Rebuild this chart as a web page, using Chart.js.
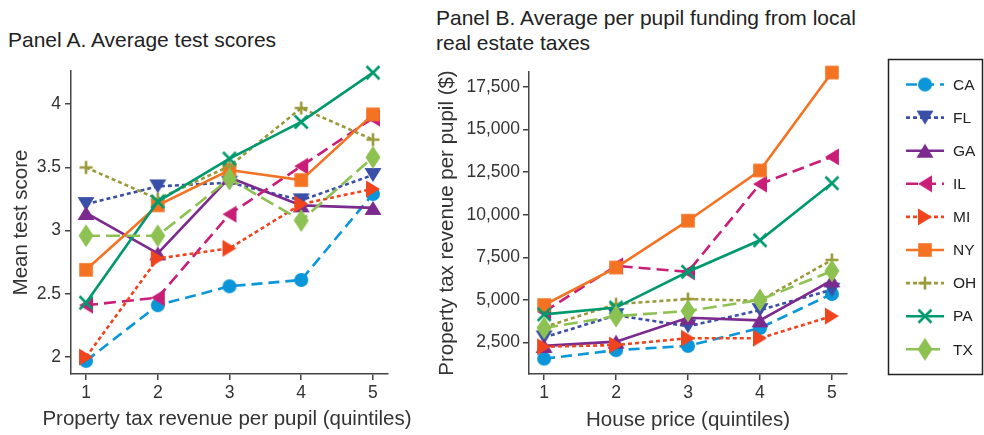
<!DOCTYPE html>
<html>
<head>
<meta charset="utf-8">
<script src="https://cdn.jsdelivr.net/npm/chart.js@4.4.1/dist/chart.umd.min.js"></script>
<style>
body{margin:0;background:#fff;width:984px;height:435px;overflow:hidden;position:relative;font-family:"Liberation Sans",Arial,sans-serif;color:#222}
.t{position:absolute;font-size:21px;line-height:25px;white-space:nowrap;color:#222}
.xt{position:absolute;font-size:20.5px;line-height:24px;white-space:nowrap;color:#333;text-align:center}
#cA{position:absolute;left:0;top:0}
#cB{position:absolute;left:430px;top:0}
</style>
</head>
<body>
<div class="t" style="left:8px;top:27px">Panel A. Average test scores</div>
<div class="t" style="left:436px;top:5px">Panel B. Average per pupil funding from local<br>real estate taxes</div>
<canvas id="cA" width="430" height="435"></canvas>
<canvas id="cB" width="554" height="435"></canvas>
<div class="xt" style="left:27px;top:406px;width:400px">Property tax revenue per pupil (quintiles)</div>
<script>
var quintiles = [1, 2, 3, 4, 5];
var states = ['CA', 'FL', 'GA', 'IL', 'MI', 'NY', 'OH', 'PA', 'TX'];

// Panel A: mean test score by property tax revenue quintile
var scoreCA = [1.97, 2.41, 2.56, 2.61, 3.29];
var scoreFL = [3.21, 3.35, 3.38, 3.24, 3.44];
var scoreGA = [3.14, 2.82, 3.42, 3.20, 3.18];
var scoreIL = [2.41, 2.47, 3.13, 3.51, 3.89];
var scoreMI = [2.00, 2.78, 2.86, 3.21, 3.33];
var scoreNY = [2.69, 3.20, 3.48, 3.40, 3.92];
var scoreOH = [3.50, 3.25, 3.51, 3.97, 3.72];
var scorePA = [2.43, 3.23, 3.57, 3.86, 4.25];
var scoreTX = [2.96, 2.96, 3.41, 3.08, 3.58];
var scoreTicks = [2, 2.5, 3, 3.5, 4];

// Panel B: per pupil funding from local real estate taxes by house price quintile
var fundCA = [1550, 2050, 2300, 3350, 5350];
var fundFL = [2800, 4100, 3450, 4400, 5600];
var fundGA = [2300, 2550, 3950, 3800, 6150];
var fundIL = [4300, 7000, 6650, 11800, 13400];
var fundMI = [2250, 2350, 2750, 2750, 4050];
var fundNY = [4700, 6900, 9650, 12600, 18350];
var fundOH = [3400, 4750, 5050, 4950, 7350];
var fundPA = [4150, 4550, 6650, 8500, 11850];
var fundTX = [3350, 4050, 4350, 5000, 6700];
var fundTicks = [2500, 5000, 7500, 10000, 12500, 15000, 17500];

var FONT = '"Liberation Sans", Arial, Helvetica, sans-serif';
Chart.defaults.font.family = FONT;

var look = {
  CA: {color: '#0a96d8', dash: [11, 6], shape: 'circle'},
  FL: {color: '#3a4fa6', dash: [4, 3], shape: 'down'},
  GA: {color: '#7b2a8e', dash: [], shape: 'up'},
  IL: {color: '#c81e78', dash: [12, 6], shape: 'left'},
  MI: {color: '#f0441f', dash: [4, 3], shape: 'right'},
  NY: {color: '#f47322', dash: [], shape: 'square'},
  OH: {color: '#9a9a3c', dash: [4, 3], shape: 'plus'},
  PA: {color: '#00996e', dash: [], shape: 'x'},
  TX: {color: '#8dc152', dash: [14, 6], shape: 'diamond'}
};

function marker(shape, color) {
  var c = document.createElement('canvas');
  var w = 18, h = 18;
  if (shape === 'diamond') { w = 16; h = 24; }
  c.width = w; c.height = h;
  var g = c.getContext('2d');
  var cx = w / 2, cy = h / 2;
  g.fillStyle = color; g.strokeStyle = color; g.lineWidth = 2.6;
  g.beginPath();
  if (shape === 'circle') { g.arc(cx, cy, 7, 0, Math.PI * 2); g.fill(); }
  else if (shape === 'down') { g.moveTo(cx - 8.5, cy - 7); g.lineTo(cx + 8.5, cy - 7); g.lineTo(cx, cy + 7); g.closePath(); g.fill(); }
  else if (shape === 'up') { g.moveTo(cx - 8.5, cy + 7); g.lineTo(cx + 8.5, cy + 7); g.lineTo(cx, cy - 7); g.closePath(); g.fill(); }
  else if (shape === 'left') { g.moveTo(cx + 7, cy - 8.5); g.lineTo(cx + 7, cy + 8.5); g.lineTo(cx - 7, cy); g.closePath(); g.fill(); }
  else if (shape === 'right') { g.moveTo(cx - 7, cy - 8.5); g.lineTo(cx - 7, cy + 8.5); g.lineTo(cx + 7, cy); g.closePath(); g.fill(); }
  else if (shape === 'square') { g.fillRect(cx - 6.8, cy - 6.8, 13.6, 13.6); }
  else if (shape === 'plus') { g.moveTo(cx - 6.5, cy); g.lineTo(cx + 6.5, cy); g.moveTo(cx, cy - 6.5); g.lineTo(cx, cy + 6.5); g.stroke(); }
  else if (shape === 'x') { g.moveTo(cx - 6.5, cy - 6.5); g.lineTo(cx + 6.5, cy + 6.5); g.moveTo(cx + 6.5, cy - 6.5); g.lineTo(cx - 6.5, cy + 6.5); g.stroke(); }
  else if (shape === 'diamond') { g.moveTo(cx, cy - 11.5); g.lineTo(cx + 7.5, cy); g.lineTo(cx, cy + 11.5); g.lineTo(cx - 7.5, cy); g.closePath(); g.fill(); }
  return c;
}

function buildDatasets(series) {
  var out = [];
  for (var i = 0; i < states.length; i++) {
    var st = states[i], lk = look[st], vals = series[i];
    var pts = [];
    for (var j = 0; j < quintiles.length; j++) pts.push({x: quintiles[j], y: vals[j]});
    out.push({
      label: st,
      data: pts,
      borderColor: lk.color,
      backgroundColor: lk.color,
      borderWidth: 2.6,
      borderDash: lk.dash,
      pointStyle: marker(lk.shape, lk.color),
      pointRadius: 6,
      tension: 0,
      clip: false,
      order: states.length - i
    });
  }
  return out;
}

function scales(yMin, yMax, yTicks, yFmt, yTitle, xTitle, yWidth, yTitlePad, yTickPad) {
  return {
    x: {
      type: 'linear', min: 0.79, max: 5.21,
      afterBuildTicks: function (s) { s.ticks = quintiles.map(function (v) { return {value: v}; }); },
      afterFit: function (s) { s.height = 61; },
      grid: {display: true, drawOnChartArea: false, drawTicks: true, tickLength: 6, color: '#444', lineWidth: 1.5},
      border: {display: true, color: '#444', width: 1.5},
      ticks: {color: '#333', font: {size: 17.5}, padding: 3, maxRotation: 0, autoSkip: false},
      title: {display: !!xTitle, text: xTitle, color: '#333', font: {size: 20.5}, padding: {top: 0, bottom: 2}}
    },
    y: {
      type: 'linear', min: yMin, max: yMax,
      afterBuildTicks: function (s) { s.ticks = yTicks.map(function (v) { return {value: v}; }); },
      afterFit: function (s) { s.width = yWidth; },
      grid: {display: true, drawOnChartArea: false, drawTicks: true, tickLength: 6, color: '#444', lineWidth: 1.5},
      border: {display: true, color: '#444', width: 1.5},
      ticks: {color: '#333', font: {size: 17.5}, padding: yTickPad, autoSkip: false, callback: yFmt},
      title: {display: true, text: yTitle, color: '#333', font: {size: 20.5}, padding: {top: yTitlePad, bottom: 0}}
    }
  };
}

var legendBox = {
  id: 'legendBox',
  afterDraw: function (chart) {
    var ctx = chart.ctx;
    ctx.save();
    ctx.setLineDash([]);
    ctx.strokeStyle = '#222';
    ctx.lineWidth = 1.5;
    ctx.strokeRect(458.5, 59.5, 94, 315);
    chart.data.datasets.forEach(function (ds, i) {
      var y = 84.5 + i * 33.1;
      ctx.beginPath();
      ctx.setLineDash(ds.borderDash);
      ctx.lineWidth = 2.6;
      ctx.strokeStyle = ds.borderColor;
      ctx.moveTo(476, y);
      ctx.lineTo(514, y);
      ctx.stroke();
      ctx.setLineDash([]);
      var img = ds.pointStyle;
      ctx.drawImage(img, 495 - img.width / 2, y - img.height / 2);
      ctx.fillStyle = '#222';
      ctx.font = '15.5px ' + FONT;
      ctx.textBaseline = 'middle';
      ctx.textAlign = 'left';
      ctx.fillText(ds.label, 523, y + 1);
    });
    ctx.restore();
  }
};

var commonOpts = {
  responsive: false,
  animation: false,
  plugins: {legend: {display: false}, tooltip: {enabled: false}}
};

new Chart(document.getElementById('cA'), {
  type: 'line',
  data: {datasets: buildDatasets([scoreCA, scoreFL, scoreGA, scoreIL, scoreMI, scoreNY, scoreOH, scorePA, scoreTX])},
  options: Object.assign({}, commonOpts, {
    layout: {padding: {left: 0, top: 71, right: 42, bottom: 0}},
    // x title for this panel is wider than the plot, so it sits in the page as text
    scales: scales(1.866, 4.263, scoreTicks, function (v) { return String(v); },
      'Mean test score', '', 71, 9, 4)
  })
});

new Chart(document.getElementById('cB'), {
  type: 'line',
  data: {datasets: buildDatasets([fundCA, fundFL, fundGA, fundIL, fundMI, fundNY, fundOH, fundPA, fundTX])},
  options: Object.assign({}, commonOpts, {
    layout: {padding: {left: 0, top: 72, right: 137, bottom: 0}},
    scales: scales(650, 18380, fundTicks, function (v) { return v.toLocaleString('en-US'); },
      'Property tax revenue per pupil ($)', 'House price (quintiles)', 99, 5, 3)
  }),
  plugins: [legendBox]
});
</script>
</body>
</html>
